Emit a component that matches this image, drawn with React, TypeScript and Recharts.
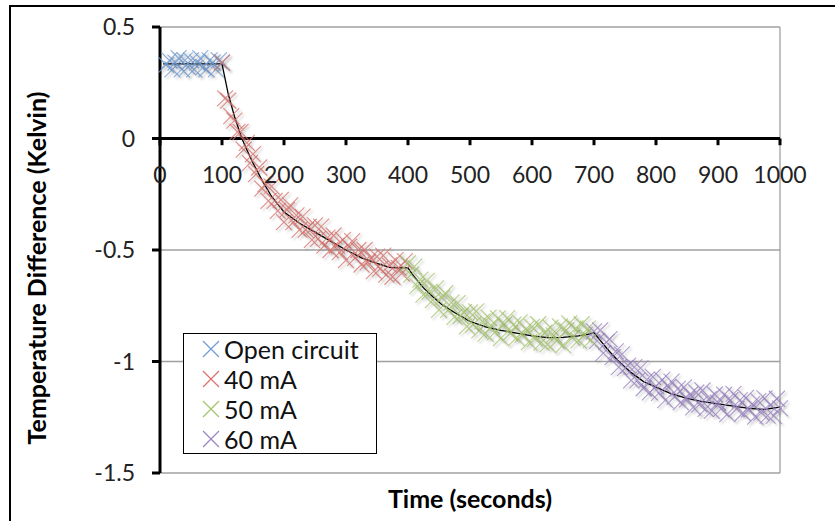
import React from 'react';
import {
  ComposedChart,
  Scatter,
  Line,
  XAxis,
  YAxis,
  CartesianGrid,
  ReferenceLine,
} from 'recharts';

// measured samples (time in s, temperature difference in K)
const openT = [10, 15, 20, 25, 30, 35, 40, 45, 50, 55, 60, 65, 70, 75, 80, 85, 90, 95, 100];
const openV = [0.33, 0.35, 0.31, 0.34, 0.36, 0.31, 0.35, 0.32, 0.35, 0.31, 0.34, 0.36, 0.32, 0.31, 0.35, 0.34, 0.31, 0.35, 0.34];

const redT = [
  100, 105, 110, 115, 120, 125, 130, 135, 140, 145, 150, 155, 160, 165, 170, 175, 180, 185, 190, 195,
  200, 205, 210, 215, 220, 225, 230, 235, 240, 245, 250, 255, 260, 265, 270, 275, 280, 285, 290, 295,
  300, 305, 310, 315, 320, 325, 330, 335, 340, 345, 350, 355, 360, 365, 370, 375, 380, 385, 390, 395,
];
const redV = [
  0.34, 0.18, 0.17, 0.1, 0.08, 0.03, 0.03, -0.05, -0.02, -0.11, -0.07, -0.16, -0.13, -0.225, -0.205, -0.28, -0.215, -0.28, -0.325, -0.275,
  -0.375, -0.32, -0.3, -0.375, -0.345, -0.41, -0.35, -0.41, -0.395, -0.455, -0.39, -0.45, -0.395, -0.48, -0.445, -0.5, -0.435, -0.48, -0.51, -0.455,
  -0.545, -0.485, -0.46, -0.535, -0.5, -0.565, -0.5, -0.555, -0.535, -0.595, -0.53, -0.585, -0.525, -0.61, -0.568, -0.62, -0.545, -0.58, -0.605, -0.55,
];

const greenT = [
  400, 405, 410, 415, 420, 425, 430, 435, 440, 445, 450, 455, 460, 465, 470, 475, 480, 485, 490, 495,
  500, 505, 510, 515, 520, 525, 530, 535, 540, 545, 550, 555, 560, 565, 570, 575, 580, 585, 590, 595,
  600, 605, 610, 615, 620, 625, 630, 635, 640, 645, 650, 655, 660, 665, 670, 675, 680, 685, 690, 695,
];
const greenV = [
  -0.56, -0.61, -0.575, -0.662, -0.633, -0.7, -0.638, -0.687, -0.725, -0.672, -0.768, -0.715, -0.694, -0.768, -0.736, -0.8, -0.738, -0.796, -0.779, -0.842,
  -0.78, -0.835, -0.775, -0.86, -0.82, -0.875, -0.803, -0.841, -0.869, -0.807, -0.895, -0.833, -0.805, -0.873, -0.835, -0.893, -0.825, -0.878, -0.855, -0.913,
  -0.845, -0.897, -0.833, -0.915, -0.871, -0.923, -0.848, -0.883, -0.907, -0.842, -0.927, -0.86, -0.829, -0.893, -0.851, -0.905, -0.833, -0.88, -0.853, -0.904,
];

const purpleT = [
  700, 705, 710, 715, 720, 725, 730, 735, 740, 745, 750, 755, 760, 765, 770, 775, 780, 785, 790, 795,
  800, 805, 810, 815, 820, 825, 830, 835, 840, 845, 850, 855, 860, 865, 870, 875, 880, 885, 890, 895,
  900, 905, 910, 915, 920, 925, 930, 935, 940, 945, 950, 955, 960, 965, 970, 975, 980, 985, 990, 995, 1000,
];
const purpleV = [
  -0.865, -0.908, -0.86, -0.962, -0.913, -0.9, -0.98, -0.955, -1.025, -0.968, -1.03, -1.018, -1.085, -1.025, -1.085, -1.03, -1.12, -1.081, -1.138, -1.069,
  -1.11, -1.141, -1.082, -1.173, -1.114, -1.09, -1.159, -1.123, -1.182, -1.116, -1.17, -1.148, -1.206, -1.139, -1.192, -1.13, -1.212, -1.169, -1.221, -1.148,
  -1.185, -1.212, -1.149, -1.236, -1.173, -1.145, -1.212, -1.174, -1.231, -1.163, -1.215, -1.191, -1.247, -1.178, -1.229, -1.165, -1.243, -1.196, -1.244, -1.167, -1.21,
];

// fitted model curve (black line)
const fitT = [5, 100, 110, 120, 132, 140, 150, 165, 180, 200, 225, 250, 275, 300, 325, 350, 370, 385, 400,
  410, 425, 440, 455, 475, 500, 525, 550, 575, 600, 625, 650, 675, 690, 700,
  710, 725, 740, 760, 780, 800, 825, 850, 875, 900, 925, 950, 975, 1000];
const fitV = [0.335, 0.335, 0.2, 0.1, 0.0, -0.05, -0.11, -0.19, -0.26, -0.33, -0.38, -0.42, -0.46, -0.5, -0.535, -0.56, -0.578, -0.58, -0.58,
  -0.62, -0.67, -0.71, -0.745, -0.78, -0.82, -0.845, -0.86, -0.873, -0.885, -0.893, -0.892, -0.885, -0.878, -0.87,
  -0.905, -0.955, -1.0, -1.05, -1.09, -1.115, -1.145, -1.165, -1.18, -1.19, -1.2, -1.21, -1.215, -1.205];

const xTicks = [0, 100, 200, 300, 400, 500, 600, 700, 800, 900, 1000];
const yTicks = [-1.5, -1, -0.5, 0, 0.5];

const series = [
  { name: 'Open circuit', color: '#6f9bd5', t: openT, v: openV },
  { name: '40 mA', color: '#d9706c', t: redT, v: redV },
  { name: '50 mA', color: '#a4c46a', t: greenT, v: greenV },
  { name: '60 mA', color: '#9a83c2', t: purpleT, v: purpleV },
];

const toRows = (t: number[], v: number[]) => t.map((x, i) => ({ t: x, v: v[i] }));
const fitData = toRows(fitT, fitV);

const FONT = 'Lato, "Open Sans", sans-serif';
const R = 8;

const crossShape = (color: string) => (props: any) => {
  const { cx, cy } = props;
  if (cx == null || cy == null) return <g />;
  return (
    <path
      d={`M${cx - R},${cy - R}L${cx + R},${cy + R}M${cx - R},${cy + R}L${cx + R},${cy - R}`}
      stroke={color}
      strokeWidth={1.1}
      strokeOpacity={0.8}
      fill="none"
      style={{ filter: 'drop-shadow(2px 2px 1px rgba(0,0,0,0.25))' }}
    />
  );
};

const LegendBox = () => (
  <div
    style={{
      position: 'absolute',
      left: 183,
      top: 333,
      width: 192,
      height: 119,
      border: '1px solid #000',
      background: '#fff',
      fontFamily: FONT,
      fontSize: 25,
      color: '#111',
    }}
  >
    {series.map((s) => (
      <div key={s.name} style={{ display: 'flex', alignItems: 'center', height: 30 }}>
        <svg width={18} height={18} style={{ marginLeft: 18, marginRight: 4 }}>
          <path d="M1,1L17,17M1,17L17,1" stroke={s.color} strokeWidth={1.2} />
        </svg>
        <span style={{ lineHeight: '30px' }}>{s.name}</span>
      </div>
    ))}
  </div>
);

export default function App() {
  return (
    <div style={{ position: 'absolute', left: 0, top: 0, width: 835, height: 521, background: '#fff' }}>
      <div
        style={{
          position: 'absolute',
          left: 9,
          top: 5,
          width: 830,
          height: 520,
          borderTop: '2px solid #000',
          borderLeft: '2px solid #000',
        }}
      />
      <div style={{ position: 'absolute', left: 0, top: 0 }}>
        <ComposedChart width={835} height={521} margin={{ top: 27, right: 55, bottom: 0, left: 0 }}>
          <CartesianGrid stroke="#a0a0a0" strokeWidth={1.3} />
          <XAxis
            type="number"
            dataKey="t"
            domain={[0, 1000]}
            ticks={xTicks}
            tick={false}
            axisLine={false}
            tickLine={false}
            height={48}
            label={{
              content: ({ viewBox }: any) => (
                <text
                  x={viewBox.x + viewBox.width / 2}
                  y={viewBox.y + 35}
                  textAnchor="middle"
                  fontFamily={FONT}
                  fontSize={25}
                  fontWeight="bold"
                  fill="#000"
                >
                  Time (seconds)
                </text>
              ),
            }}
          />
          <YAxis
            type="number"
            dataKey="v"
            domain={[-1.5, 0.5]}
            ticks={yTicks}
            width={160}
            axisLine={{ stroke: '#000', strokeWidth: 3 }}
            tickLine={{ stroke: '#000', strokeWidth: 3 }}
            tickSize={8}
            tickMargin={17}
            tick={{ fill: '#222', fontSize: 23, fontFamily: FONT }}
            label={{
              content: ({ viewBox }: any) => {
                const x = viewBox.x + 46;
                const y = viewBox.y + viewBox.height / 2 + 18;
                return (
                  <text
                    x={x}
                    y={y}
                    transform={`rotate(-90, ${x}, ${y})`}
                    textAnchor="middle"
                    fontFamily={FONT}
                    fontSize={25}
                    fontWeight="bold"
                    fill="#000"
                  >
                    Temperature Difference (Kelvin)
                  </text>
                );
              },
            }}
          />
          <ReferenceLine y={0} stroke="#000" strokeWidth={3} />
          {xTicks.map((t) => (
            <ReferenceLine
              key={t}
              segment={[{ x: t, y: 0 }, { x: t, y: -0.03 }]}
              stroke="#000"
              strokeWidth={3}
              label={{ value: String(t), position: 'bottom', offset: 21, fill: '#222', fontSize: 23, fontFamily: FONT }}
            />
          ))}
          {series.map((s) => (
            <Scatter
              key={s.name}
              name={s.name}
              data={toRows(s.t, s.v)}
              dataKey="v"
              fill={s.color}
              shape={crossShape(s.color)}
              isAnimationActive={false}
            />
          ))}
          <Line
            data={fitData}
            dataKey="v"
            type="linear"
            stroke="#000"
            strokeWidth={1.3}
            dot={false}
            activeDot={false}
            legendType="none"
            isAnimationActive={false}
          />
        </ComposedChart>
      </div>
      <LegendBox />
    </div>
  );
}
